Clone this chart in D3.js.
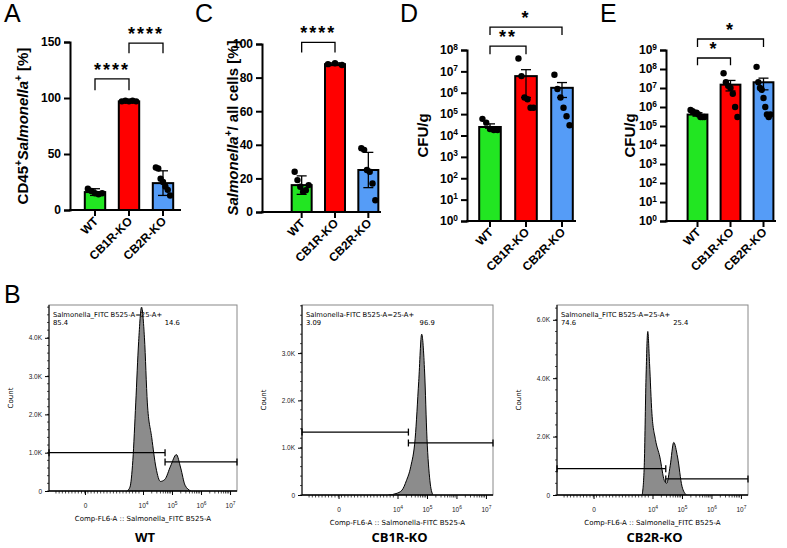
<!DOCTYPE html>
<html><head><meta charset="utf-8">
<script src="https://cdn.jsdelivr.net/npm/d3@7"></script>
<style>body{margin:0;background:#fff}svg{font-family:"Liberation Sans",Arial,sans-serif}</style>
</head><body><svg id="fig" width="787" height="548"></svg>
<script>
// groups and colours
const groups = ['WT', 'CB1R-KO', 'CB2R-KO']
const colors = ['#22e622', '#ff0000', '#559cf7']

// panel A  (% CD45+ Salmonella+), mean +- SD
const aMean = [16, 97, 24]
const aErr = [3, 1, 11]
const aPts = [[19, 17, 15, 14, 15], [97, 97.5, 97, 97.5, 97], [38, 37, 28, 25, 21, 18, 13]]
// panel C  (% Salmonella+ / all cells)
const cMean = [16, 88, 25]
const cErr = [5.5, 0.8, 10.5]
const cPts = [[24, 19, 15, 12, 13, 16], [88, 88.5, 87.5], [38, 37, 25, 24, 17, 7]]
// panel D  (CFU/g), mean +- SEM
const dMean = [2.5e4, 6e6, 1.7e6]
const dHi = [3.5e4, 1.2e7, 3e6]
const dLo = [2.2e4, 6e5, 6e5]
const dPts = [[6e4, 4e4, 2e4, 1.8e4, 1.8e4], [4e7, 6e6, 6e5, 5e5, 2e5, 2e5], [7e6, 1.5e6, 6e5, 2e5, 8e4, 3e4]]
// panel E
const eMean = [4e5, 1.5e7, 2e7]
const eHi = [5e5, 2.5e7, 3.3e7]
const eLo = [3.3e5, 7e6, 8e6]
const ePts = [[7e5, 6e5, 5e5, 5e5, 4e5, 3e5, 3e5, 3e5], [6e7, 2e7, 1.3e7, 1e7, 5e6, 1e6, 3e5], [1.3e8, 2e7, 1e7, 8e6, 3e6, 1e6, 4e5, 3e5, 4e5]]

// flow histograms (display units: 2 = 0, 4 = 10^4 ... ; count in K)
const histWT = [[3.45,0],[3.55,0.1],[3.65,0.8],[3.75,2.3],[3.85,3.9],[3.95,4.8],[4.05,4.0],[4.15,2.3],[4.3,1.4],[4.45,0.6],[4.6,0.25],[4.75,0.3],[4.95,0.65],[5.15,0.95],[5.3,0.6],[5.45,0.15],[5.65,0]]
const histCB1 = [[3.7,0],[3.95,0.03],[4.15,0.1],[4.3,0.3],[4.45,0.6],[4.6,1.2],[4.72,2.4],[4.82,3.4],[4.92,2.6],[5.0,1.2],[5.1,0.3],[5.2,0]]
const histCB2 = [[3.65,0],[3.72,1.0],[3.78,4.0],[3.84,5.6],[3.9,4.5],[3.98,2.8],[4.1,1.9],[4.25,1.3],[4.4,0.5],[4.48,0.4],[4.6,1.0],[4.72,1.8],[4.85,1.3],[5.0,0.3],[5.15,0]]
const xTickVals = [2, 4, 5, 6, 7]
const xTickText = ['0', '10|4', '10|5', '10|6', '10|7']

const svg = d3.select('#fig')

function letter(x, y, t) {
    svg.append('text').attr('x', x).attr('y', y).attr('font-size', 25).text(t)
}

function supText(sel, t, size) {
    // "10|4" -> 10 with superscript 4
    let p = t.split('|')
    sel.text(null)
    sel.append('tspan').text(p[0])
    if (p[1]) sel.append('tspan').attr('font-size', size * 0.7).attr('dy', -size * 0.4).text(p[1])
}

function barPanel(o) {
    let g = svg.append('g')
    let x = d3.scaleBand().domain(groups).range(o.range).paddingInner(0.4).paddingOuter(0.2)
    let y = o.log ? d3.scaleLog().domain(o.domain).range([o.bottom, o.top])
                  : d3.scaleLinear().domain(o.domain).range([o.bottom, o.top])
    let bw = x.bandwidth()
    let cx = d => x(d) + bw / 2

    // bars
    g.selectAll('.bar').data(groups).enter().append('rect')
        .attr('x', d => x(d)).attr('width', bw)
        .attr('y', (d, i) => y(o.mean[i])).attr('height', (d, i) => o.bottom - y(o.mean[i]))
        .attr('fill', (d, i) => colors[i]).attr('stroke', '#000').attr('stroke-width', 2)

    // error bars
    groups.forEach((d, i) => {
        let hi = o.hi ? o.hi[i] : o.mean[i] + o.err[i]
        let lo = o.lo ? o.lo[i] : o.mean[i] - o.err[i]
        g.append('line').attr('x1', cx(d)).attr('x2', cx(d)).attr('y1', y(hi)).attr('y2', y(lo)).attr('stroke', '#000').attr('stroke-width', 1.3)
        ;[hi, lo].forEach(v => g.append('line').attr('x1', cx(d) - 5).attr('x2', cx(d) + 5).attr('y1', y(v)).attr('y2', y(v)).attr('stroke', '#000').attr('stroke-width', 1.3))
        // points
        let n = o.pts[i].length
        g.selectAll(null).data(o.pts[i]).enter().append('circle')
            .attr('cx', (v, j) => cx(d) + (n > 1 ? (j / (n - 1) - 0.5) * bw * 0.7 : 0))
            .attr('cy', v => y(v)).attr('r', 3.2).attr('fill', '#000')
    })

    // axes
    let yAxis = d3.axisLeft(y).tickSizeOuter(0).tickSize(6)
    if (o.log) yAxis.tickValues(d3.range(0, o.decades + 1).map(k => Math.pow(10, k))).tickFormat(() => '')
    else yAxis.tickValues(o.ticks)
    let ya = g.append('g').attr('transform', 'translate(' + o.axisX + ',0)').call(yAxis)
    ya.select('.domain').attr('stroke-width', 2)
    ya.selectAll('.tick line').attr('stroke-width', 2)
    ya.selectAll('.tick text').attr('font-size', 12).attr('font-weight', 'bold').attr('fill', '#000')
    if (o.log) ya.selectAll('.tick text').each(function (d) { supText(d3.select(this), '10|' + Math.round(Math.log10(d)), 12) })

    g.append('line').attr('x1', o.axisX - 1).attr('x2', o.axisEnd).attr('y1', o.bottom).attr('y2', o.bottom).attr('stroke', '#000').attr('stroke-width', 2)
    groups.forEach(d => {
        g.append('line').attr('x1', cx(d)).attr('x2', cx(d)).attr('y1', o.bottom).attr('y2', o.bottom + 6).attr('stroke', '#000').attr('stroke-width', 2)
        g.append('text').attr('transform', 'translate(' + (cx(d) + 4) + ',' + (o.bottom + 12) + ') rotate(-45)')
            .attr('text-anchor', 'end').attr('font-size', 12).attr('font-weight', 'bold').text(d)
    })

    // y label
    let lab = g.append('text').attr('transform', 'translate(' + o.labelX + ',' + ((o.top + o.bottom) / 2) + ') rotate(-90)')
        .attr('text-anchor', 'middle').attr('font-size', 15).attr('font-weight', 'bold')
    o.label.forEach(s => {
        let t = lab.append('tspan').text(s.t)
        if (s.i) t.attr('font-style', 'italic')
        if (s.sup) t.attr('font-size', 10).attr('dy', -6)
        if (s.down) t.attr('dy', 6)
    })

    // significance brackets
    o.brackets.forEach(b => {
        let x1 = cx(groups[b.a]), x2 = cx(groups[b.b])
        g.append('path').attr('d', 'M' + x1 + ',' + y(b.leg) + 'V' + y(b.top) + 'H' + x2 + 'V' + y(b.leg))
            .attr('fill', 'none').attr('stroke', '#000').attr('stroke-width', 1.3)
        g.append('text').attr('x', (x1 + x2) / 2).attr('y', y(b.top) - 3).attr('text-anchor', 'middle')
            .attr('font-size', 18).attr('font-weight', 'bold').attr('letter-spacing', 2).text(b.label)
    })
}

letter(4, 22, 'A')
barPanel({ range: [78, 180], axisX: 70, axisEnd: 181, top: 42, bottom: 210, domain: [0, 150], ticks: [0, 50, 100, 150],
    mean: aMean, err: aErr, pts: aPts, labelX: 28,
    label: [{ t: 'CD45' }, { t: '+', sup: 1 }, { t: 'Salmonella', i: 1, down: 1 }, { t: '+', sup: 1 }, { t: ' [%]', down: 1 }],
    brackets: [{ a: 0, b: 1, top: 117, leg: 107, label: '****' }, { a: 1, b: 2, top: 149, leg: 140, label: '****' }] })

letter(195, 22, 'C')
barPanel({ range: [285, 385], axisX: 262, axisEnd: 381, top: 44, bottom: 212, domain: [0, 100], ticks: [0, 20, 40, 60, 80, 100],
    mean: cMean, err: cErr, pts: cPts, labelX: 238,
    label: [{ t: 'Salmonella', i: 1 }, { t: '+', sup: 1 }, { t: '/ all cells [%]', down: 1 }],
    brackets: [{ a: 0, b: 1, top: 101, leg: 95, label: '****' }] })

letter(400, 22, 'D')
barPanel({ range: [472, 580], axisX: 467, axisEnd: 576, top: 50, bottom: 221, domain: [1, 1e8], log: true, decades: 8,
    mean: dMean, hi: dHi, lo: dLo, pts: dPts, labelX: 428,
    label: [{ t: 'CFU/g' }],
    brackets: [{ a: 0, b: 1, top: Math.pow(10, 8.18), leg: Math.pow(10, 7.8), label: '**' }, { a: 0, b: 2, top: Math.pow(10, 9.07), leg: Math.pow(10, 8.7), label: '*' }] })

letter(600, 22, 'E')
barPanel({ range: [681, 780], axisX: 666, axisEnd: 776, top: 50, bottom: 221, domain: [1, 1e9], log: true, decades: 9,
    mean: eMean, hi: eHi, lo: eLo, pts: ePts, labelX: 635,
    label: [{ t: 'CFU/g' }],
    brackets: [{ a: 0, b: 1, top: Math.pow(10, 8.58), leg: Math.pow(10, 8.2), label: '*' }, { a: 0, b: 2, top: Math.pow(10, 9.58), leg: Math.pow(10, 9.16), label: '*' }] })

// ---------- histograms ----------
function histPanel(o) {
    let g = svg.append('g').attr('font-family', '"DejaVu Sans",sans-serif')
    let x = d3.scaleLinear().domain([0.76, 7.24]).range([o.left, o.right])
    let y = d3.scaleLinear().domain([0, o.kPerPx * (o.bottom - o.top)]).range([o.bottom, o.top])
    g.append('clipPath').attr('id', 'c' + o.id).append('rect').attr('x', o.left).attr('y', o.top).attr('width', o.right - o.left).attr('height', o.bottom - o.top)
    let area = d3.area().x(d => x(d[0])).y0(o.bottom).y1(d => y(d[1])).curve(d3.curveMonotoneX)
    g.append('path').datum(o.data).attr('d', area).attr('fill', '#8c8c8c').attr('stroke', '#000').attr('stroke-width', 1).attr('clip-path', 'url(#c' + o.id + ')')
    g.append('rect').attr('x', o.left).attr('y', o.top).attr('width', o.right - o.left).attr('height', o.bottom - o.top)
        .attr('fill', 'none').attr('stroke', '#888').attr('stroke-width', 1)
    g.append('line').attr('x1', o.left).attr('x2', o.right).attr('y1', o.bottom).attr('y2', o.bottom).attr('stroke', '#000').attr('stroke-width', 1.3)
    g.append('line').attr('x1', o.left).attr('x2', o.left).attr('y1', o.top).attr('y2', o.bottom).attr('stroke', '#000').attr('stroke-width', 1)

    // y axis
    let ya = g.append('g').attr('transform', 'translate(' + o.left + ',0)')
        .call(d3.axisLeft(y).tickValues(o.yTicks).tickFormat(d => d === 0 ? '0' : d.toFixed(1) + 'K').tickSize(4).tickSizeOuter(0))
    ya.select('.domain').remove()
    ya.selectAll('text').attr('font-size', 6.5).attr('fill', '#222')
    let minor = d3.range(0, y.domain()[1], o.yMinor)
    g.selectAll(null).data(minor).enter().append('line').attr('x1', o.left - 2).attr('x2', o.left).attr('y1', d => y(d)).attr('y2', d => y(d)).attr('stroke', '#000').attr('stroke-width', 0.7)

    // x axis
    let xa = g.append('g').attr('transform', 'translate(0,' + o.bottom + ')')
        .call(d3.axisBottom(x).tickValues(xTickVals).tickSize(4).tickSizeOuter(0))
    xa.select('.domain').remove()
    xa.selectAll('text').attr('font-size', 6.5).attr('fill', '#222').attr('y', 17).attr('dy', null)
        .each(function (d, i) { supText(d3.select(this), xTickText[i], 7) })
    let mt = []
    for (let k = 4; k < 7; k++) for (let m = 2; m < 10; m++) mt.push(k + Math.log10(m))
    for (let v = 1.0; v < 3.9; v += 0.11) mt.push(v)
    g.selectAll(null).data(mt).enter().append('line').attr('x1', d => x(d)).attr('x2', d => x(d)).attr('y1', o.bottom).attr('y2', o.bottom + 2.5).attr('stroke', '#000').attr('stroke-width', 0.7)

    // gates
    ;[[0.76, o.gate, o.gL], [o.gate, 7.24, o.gR]].forEach(gt => {
        g.append('line').attr('x1', x(gt[0])).attr('x2', x(gt[1])).attr('y1', y(gt[2])).attr('y2', y(gt[2])).attr('stroke', '#000').attr('stroke-width', 1.3)
        ;[gt[0], gt[1]].forEach(v => g.append('line').attr('x1', x(v)).attr('x2', x(v)).attr('y1', y(gt[2]) - 3.5).attr('y2', y(gt[2]) + 3.5).attr('stroke', '#000').attr('stroke-width', 1.3))
    })

    g.append('text').attr('x', o.left + 4).attr('y', o.top + 12).attr('font-size', 6.8).text(o.gateName)
    g.append('text').attr('x', o.left + 4).attr('y', o.top + 20).attr('font-size', 6.8).text(o.pct[0])
    g.append('text').attr('x', x(o.pctX)).attr('y', o.top + 20).attr('font-size', 6.8).text(o.pct[1])
    g.append('text').attr('transform', 'translate(' + (o.left - 36) + ',' + ((o.top + o.bottom) / 2) + ') rotate(-90)')
        .attr('text-anchor', 'middle').attr('font-size', 7).text('Count')
    g.append('text').attr('x', (o.left + o.right) / 2).attr('y', o.bottom + 30).attr('text-anchor', 'middle').attr('font-size', 7)
        .text('Comp-FL6-A :: ' + o.gateName.split(' ')[0] + ' B525-A')
    g.append('text').attr('x', (o.left + o.right) / 2 + 2).attr('y', 542).attr('text-anchor', 'middle').attr('font-size', 13)
        .attr('font-weight', 'bold').attr('font-family', '"Open Sans",sans-serif').text(o.name)
}

letter(4, 303, 'B')
histPanel({ id: 1, name: 'WT', data: histWT, left: 49, right: 237, top: 305, bottom: 491, kPerPx: 1 / 38.3,
    yTicks: [0, 1, 2, 3, 4], yMinor: 0.2, gate: 4.76, gL: 1.0, gR: 0.76, pct: ['85.4', '14.6'], pctX: 4.75,
    gateName: 'Salmonella_FITC B525-A=25-A+' })
histPanel({ id: 2, name: 'CB1R-KO', data: histCB1, left: 302, right: 493, top: 305, bottom: 495, kPerPx: 1 / 47.3,
    yTicks: [0, 1, 2, 3], yMinor: 0.2, gate: 4.37, gL: 1.33, gR: 1.1, pct: ['3.09', '96.9'], pctX: 4.75,
    gateName: 'Salmonella-FITC B525-A=25-A+' })
histPanel({ id: 3, name: 'CB2R-KO', data: histCB2, left: 557, right: 748, top: 305, bottom: 495, kPerPx: 1 / 29.2,
    yTicks: [0, 2, 4, 6], yMinor: 0.4, gate: 4.45, gL: 0.9, gR: 0.55, pct: ['74.6', '25.4'], pctX: 4.7,
    gateName: 'Salmonella_FITC B525-A=25-A+' })
</script></body></html>
